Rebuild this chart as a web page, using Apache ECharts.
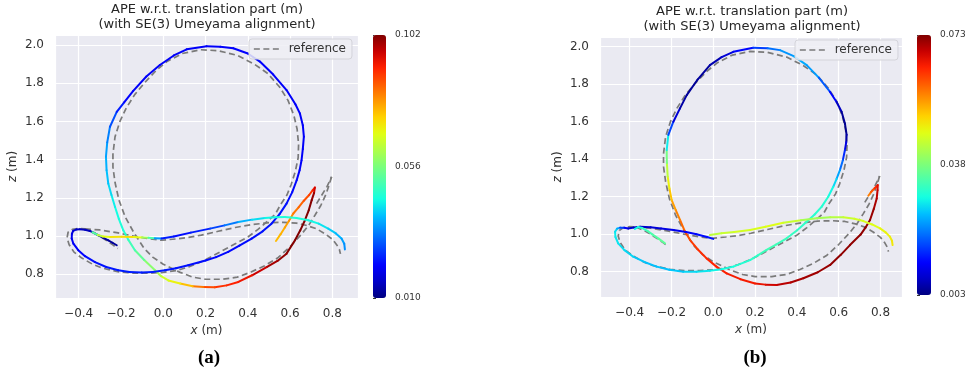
<!DOCTYPE html>
<html>
<head>
<meta charset="utf-8">
<script src="https://cdn.jsdelivr.net/npm/echarts@6/dist/echarts.min.js"></script>
<style>
  html, body { margin: 0; padding: 0; background: #fff; }
  #chart { width: 969px; height: 374px; }
</style>
</head>
<body>
<div id="chart"></div>
<script>
// matplotlib "jet" colormap, evenly spaced stops
const jet = ['#000080', '#0000c8', '#0000ff', '#0040ff', '#0080ff', '#00bfff', '#14ffe2', '#48ffaf',
  '#7bff7b', '#afff48', '#e2ff14', '#ffd200', '#ff9700', '#ff5c00', '#ff2100', '#c80000', '#800000'];

const errRangeA = [0.010, 0.102];
const errRangeB = [0.003, 0.073];
const cbarTicksA = 0.046;
const cbarTicksB = 0.035;

// ground truth (same in both panels), [x, z]
const refArc = [
  [0.796, 1.31], [0.785, 1.27], [0.77, 1.22], [0.745, 1.16], [0.718, 1.11], [0.69, 1.06], [0.654, 1.01],
  [0.6, 0.945], [0.544, 0.888], [0.48, 0.845], [0.415, 0.812], [0.35, 0.785], [0.28, 0.774], [0.2, 0.774],
  [0.14, 0.785], [0.08, 0.81], [0.0, 0.853], [-0.05, 0.89], [-0.09, 0.935], [-0.14, 1.02], [-0.18, 1.1],
  [-0.21, 1.19], [-0.228, 1.28], [-0.238, 1.36], [-0.238, 1.43], [-0.228, 1.52], [-0.205, 1.6], [-0.175, 1.67],
  [-0.135, 1.74], [-0.09, 1.8], [-0.035, 1.865], [0.02, 1.915], [0.09, 1.955], [0.176, 1.975], [0.26, 1.97],
  [0.351, 1.945], [0.43, 1.9], [0.495, 1.85], [0.55, 1.78], [0.59, 1.71], [0.618, 1.63], [0.633, 1.56],
  [0.64, 1.48], [0.638, 1.41], [0.625, 1.34], [0.605, 1.27], [0.585, 1.215], [0.555, 1.165], [0.53, 1.115],
  [0.49, 1.075], [0.448, 1.035], [0.4, 0.995], [0.345, 0.962], [0.29, 0.93], [0.235, 0.897], [0.185, 0.868],
  [0.12, 0.838], [0.064, 0.82], [0.0, 0.81], [-0.064, 0.806], [-0.14, 0.806], [-0.21, 0.813], [-0.29, 0.833],
  [-0.335, 0.853], [-0.385, 0.885], [-0.422, 0.916], [-0.445, 0.955], [-0.455, 0.99], [-0.45, 1.02],
  [-0.43, 1.035], [-0.4, 1.04], [-0.37, 1.038]
];
const refMiddle = [
  [-0.37, 1.038], [-0.3, 1.032], [-0.22, 1.018], [-0.14, 1.0], [-0.06, 0.985], [-0.01, 0.978], [0.06, 0.985],
  [0.12, 0.993], [0.18, 1.005], [0.26, 1.025], [0.34, 1.045], [0.42, 1.06], [0.5, 1.07], [0.57, 1.072],
  [0.63, 1.068], [0.68, 1.055], [0.725, 1.038], [0.765, 1.012], [0.8, 0.983], [0.82, 0.955], [0.833, 0.93],
  [0.838, 0.907]
];
const refHook = [
  [-0.37, 1.038], [-0.335, 1.022], [-0.3, 1.0], [-0.27, 0.978], [-0.24, 0.955], [-0.215, 0.935]
];
const refUp = [
  [0.725, 1.17], [0.75, 1.215], [0.775, 1.26], [0.796, 1.31]
];

// estimate (a), [x, z, APE]
const estAMain = [
  [0.533, 0.974, 0.075], [0.555, 1.01, 0.076], [0.575, 1.045, 0.077], [0.595, 1.08, 0.079], [0.615, 1.118, 0.081],
  [0.64, 1.15, 0.083], [0.665, 1.185, 0.085], [0.69, 1.215, 0.087], [0.707, 1.24, 0.089], [0.717, 1.254, 0.092],
  [0.713, 1.225, 0.099], [0.702, 1.188, 0.101], [0.688, 1.135, 0.102], [0.67, 1.083, 0.102], [0.648, 1.03, 0.102],
  [0.623, 0.978, 0.102], [0.583, 0.908, 0.101], [0.54, 0.87, 0.100], [0.489, 0.838, 0.098], [0.42, 0.795, 0.094],
  [0.355, 0.76, 0.091], [0.3, 0.742, 0.090], [0.244, 0.732, 0.088], [0.19, 0.734, 0.085], [0.139, 0.737, 0.079],
  [0.08, 0.752, 0.071], [0.024, 0.768, 0.067], [-0.01, 0.79, 0.064], [-0.039, 0.821, 0.060], [-0.09, 0.875, 0.055],
  [-0.134, 0.926, 0.051], [-0.165, 0.98, 0.048], [-0.189, 1.03, 0.046], [-0.21, 1.09, 0.045], [-0.228, 1.152, 0.044],
  [-0.245, 1.215, 0.042], [-0.26, 1.275, 0.040], [-0.268, 1.345, 0.038], [-0.271, 1.415, 0.037], [-0.265, 1.49, 0.035],
  [-0.252, 1.572, 0.031], [-0.22, 1.65, 0.026], [-0.185, 1.7, 0.022], [-0.142, 1.76, 0.021], [-0.08, 1.835, 0.021],
  [-0.016, 1.895, 0.021], [0.05, 1.945, 0.021], [0.111, 1.977, 0.021], [0.205, 1.993, 0.021], [0.27, 1.99, 0.021],
  [0.331, 1.983, 0.021], [0.4, 1.955, 0.022], [0.457, 1.913, 0.022], [0.52, 1.845, 0.021], [0.583, 1.764, 0.021],
  [0.625, 1.69, 0.021], [0.646, 1.642, 0.021], [0.66, 1.58, 0.021], [0.665, 1.52, 0.021], [0.66, 1.455, 0.021],
  [0.654, 1.397, 0.021], [0.645, 1.345, 0.021], [0.631, 1.292, 0.022], [0.61, 1.23, 0.022], [0.583, 1.17, 0.023],
  [0.55, 1.115, 0.023], [0.512, 1.065, 0.023], [0.47, 1.025, 0.023], [0.418, 0.987, 0.023], [0.36, 0.95, 0.022],
  [0.307, 0.917, 0.022], [0.25, 0.89, 0.022], [0.2, 0.872, 0.022], [0.118, 0.847, 0.023], [0.06, 0.832, 0.023],
  [0.008, 0.821, 0.024], [-0.05, 0.812, 0.024], [-0.102, 0.809, 0.024], [-0.16, 0.812, 0.024], [-0.213, 0.821, 0.024],
  [-0.27, 0.838, 0.023], [-0.323, 0.864, 0.023], [-0.37, 0.895, 0.022], [-0.402, 0.926, 0.021], [-0.425, 0.96, 0.021],
  [-0.433, 0.987, 0.020], [-0.432, 1.012, 0.019], [-0.426, 1.027, 0.018], [-0.41, 1.035, 0.016], [-0.394, 1.036, 0.015],
  [-0.37, 1.033, 0.015], [-0.347, 1.027, 0.015], [-0.327, 1.016, 0.014], [-0.307, 1.004, 0.013], [-0.283, 0.991, 0.013],
  [-0.26, 0.978, 0.012], [-0.24, 0.965, 0.012], [-0.22, 0.952, 0.012]
];
const estAMiddle = [
  [-0.335, 1.02, 0.044], [-0.31, 1.006, 0.060], [-0.285, 0.998, 0.066], [-0.25, 0.995, 0.069], [-0.197, 0.996, 0.073],
  [-0.14, 0.995, 0.071], [-0.1, 0.993, 0.065], [-0.07, 0.991, 0.056], [-0.04, 0.988, 0.045], [-0.008, 0.987, 0.026],
  [0.05, 0.998, 0.022], [0.13, 1.018, 0.023], [0.221, 1.039, 0.025], [0.29, 1.056, 0.030], [0.355, 1.074, 0.035],
  [0.42, 1.086, 0.040], [0.481, 1.095, 0.043], [0.53, 1.099, 0.045], [0.575, 1.1, 0.046], [0.63, 1.095, 0.046],
  [0.686, 1.083, 0.045], [0.735, 1.065, 0.043], [0.78, 1.039, 0.041], [0.815, 1.015, 0.039], [0.843, 0.987, 0.037],
  [0.856, 0.96, 0.035], [0.859, 0.93, 0.034]
];

// estimate (b), [x, z, APE]
const estBMain = [
  [0.742, 1.205, 0.056], [0.755, 1.225, 0.059], [0.772, 1.245, 0.062], [0.787, 1.262, 0.065], [0.786, 1.235, 0.068],
  [0.782, 1.191, 0.070], [0.768, 1.135, 0.071], [0.75, 1.076, 0.072], [0.728, 1.035, 0.072], [0.705, 0.998, 0.072],
  [0.654, 0.942, 0.072], [0.61, 0.89, 0.072], [0.559, 0.836, 0.072], [0.5, 0.797, 0.071], [0.431, 0.765, 0.071],
  [0.37, 0.742, 0.070], [0.303, 0.729, 0.069], [0.25, 0.731, 0.067], [0.2, 0.737, 0.065], [0.13, 0.76, 0.065],
  [0.064, 0.791, 0.065], [0.015, 0.827, 0.064], [-0.032, 0.871, 0.064], [-0.075, 0.92, 0.063], [-0.111, 0.969, 0.062],
  [-0.138, 1.02, 0.060], [-0.159, 1.076, 0.058], [-0.18, 1.13, 0.056], [-0.199, 1.182, 0.054], [-0.21, 1.245, 0.050],
  [-0.218, 1.307, 0.046], [-0.222, 1.38, 0.041], [-0.223, 1.449, 0.034], [-0.215, 1.53, 0.022], [-0.191, 1.6, 0.011],
  [-0.16, 1.67, 0.006], [-0.127, 1.742, 0.0045], [-0.075, 1.825, 0.0045], [-0.016, 1.902, 0.005], [0.04, 1.945, 0.007],
  [0.096, 1.973, 0.010], [0.191, 1.995, 0.014], [0.26, 1.992, 0.018], [0.319, 1.982, 0.021], [0.385, 1.95, 0.023],
  [0.447, 1.902, 0.024], [0.505, 1.835, 0.021], [0.558, 1.76, 0.015], [0.59, 1.705, 0.009], [0.614, 1.653, 0.005],
  [0.63, 1.59, 0.004], [0.638, 1.53, 0.004], [0.636, 1.49, 0.007], [0.63, 1.449, 0.012], [0.62, 1.395, 0.017],
  [0.606, 1.342, 0.021], [0.59, 1.295, 0.025], [0.574, 1.253, 0.028], [0.55, 1.2, 0.030], [0.519, 1.147, 0.031],
  [0.485, 1.105, 0.031], [0.447, 1.067, 0.031], [0.4, 1.02, 0.032], [0.351, 0.978, 0.032], [0.3, 0.945, 0.033],
  [0.255, 0.916, 0.033], [0.215, 0.888, 0.032], [0.176, 0.862, 0.031], [0.096, 0.827, 0.030], [0.04, 0.813, 0.029],
  [-0.016, 0.805, 0.028], [-0.08, 0.8, 0.027], [-0.144, 0.8, 0.026], [-0.21, 0.81, 0.025], [-0.271, 0.827, 0.025],
  [-0.33, 0.852, 0.025], [-0.383, 0.88, 0.026], [-0.425, 0.915, 0.027], [-0.455, 0.951, 0.027], [-0.468, 0.985, 0.028],
  [-0.47, 1.013, 0.028], [-0.46, 1.03, 0.026], [-0.446, 1.035, 0.020], [-0.425, 1.034, 0.013], [-0.407, 1.031, 0.009],
  [-0.38, 1.036, 0.007], [-0.35, 1.04, 0.007], [-0.3, 1.037, 0.008], [-0.25, 1.03, 0.009], [-0.19, 1.022, 0.010],
  [-0.13, 1.012, 0.011], [-0.08, 1.0, 0.012], [-0.03, 0.985, 0.013], [0.0, 0.975, 0.013]
];
const estBHook = [
  [-0.375, 1.028, 0.028], [-0.36, 1.038, 0.029], [-0.34, 1.033, 0.031], [-0.315, 1.018, 0.033], [-0.29, 0.998, 0.034],
  [-0.26, 0.975, 0.035], [-0.231, 0.951, 0.036]
];
const estBMiddle = [
  [-0.016, 0.996, 0.043], [0.04, 1.005, 0.044], [0.1, 1.012, 0.045], [0.176, 1.022, 0.046], [0.25, 1.04, 0.046],
  [0.335, 1.061, 0.047], [0.42, 1.075, 0.042], [0.495, 1.085, 0.041], [0.56, 1.09, 0.042], [0.622, 1.09, 0.044],
  [0.675, 1.082, 0.045], [0.718, 1.07, 0.046], [0.76, 1.052, 0.046], [0.798, 1.031, 0.047], [0.825, 1.01, 0.048],
  [0.845, 0.987, 0.048], [0.855, 0.965, 0.049], [0.858, 0.942, 0.049]
];

const titleText = 'APE w.r.t. translation part (m)\n(with SE(3) Umeyama alignment)';
const font = 'DejaVu Sans';
const txt = '#333';
const refColor = '#7a7a7a';
const refDash = [6, 3.5];

// consecutive points -> [x1, z1, x2, z2, err] segments for the custom series
function toSegments(pieces) {
  const segs = [];
  pieces.forEach((p) => {
    for (let i = 1; i < p.length; i++) {
      const a = p[i - 1];
      const b = p[i];
      segs.push([a[0], a[1], b[0], b[1], (a[2] + b[2]) / 2]);
    }
  });
  return segs;
}

function fmtTick(v) {
  const r = Math.round(v * 10) / 10;
  return (r < 0 ? '\u2212' : '') + Math.abs(r).toFixed(1);
}

function nameStyle() {
  return {
    fontFamily: font, fontSize: 12, color: txt,
    rich: { i: { fontFamily: font, fontSize: 12, color: txt, fontStyle: 'italic' } },
  };
}

function plotX(gridIndex, min, max) {
  return {
    type: 'value', gridIndex, min, max, splitNumber: 7,
    name: '{i|x} (m)', nameLocation: 'middle', nameGap: 27, nameTextStyle: nameStyle(),
    axisLine: { show: false }, axisTick: { show: false },
    axisLabel: { fontFamily: font, fontSize: 12, color: txt, margin: 10, showMinLabel: false, showMaxLabel: false, formatter: fmtTick },
    splitLine: { show: true, lineStyle: { color: '#fff', width: 1.2 } },
  };
}

function plotY(gridIndex, min, max) {
  return {
    type: 'value', gridIndex, min, max, splitNumber: 7,
    name: '{i|z} (m)', nameLocation: 'middle', nameGap: 36, nameTextStyle: nameStyle(),
    axisLine: { show: false }, axisTick: { show: false },
    axisLabel: { fontFamily: font, fontSize: 12, color: txt, margin: 11, showMinLabel: false, showMaxLabel: false, formatter: fmtTick },
    splitLine: { show: true, lineStyle: { color: '#fff', width: 1.2 } },
  };
}

function cbarX(gridIndex) {
  return { type: 'value', gridIndex, min: 0, max: 1, show: false };
}

function cbarY(gridIndex, range, interval) {
  return {
    type: 'value', gridIndex, position: 'right', min: range[0], max: range[1], interval,
    axisLine: { show: false },
    axisTick: { show: true, length: 3, lineStyle: { color: txt, width: 1 } },
    axisLabel: { fontFamily: font, fontSize: 9, color: txt, margin: 9, formatter: (v) => v.toFixed(3) },
    splitLine: { show: false },
  };
}

function refSeries(axisIndex) {
  return [refArc, refMiddle, refHook, refUp].map((pts) => ({
    name: 'reference',
    type: 'line',
    xAxisIndex: axisIndex,
    yAxisIndex: axisIndex,
    data: pts,
    symbol: 'none',
    showSymbol: false,
    silent: true,
    lineStyle: { color: refColor, width: 1.7, type: refDash },
    itemStyle: { color: refColor },
    z: 2,
  }));
}

function renderSegment(params, api) {
  const p1 = api.coord([api.value(0), api.value(1)]);
  const p2 = api.coord([api.value(2), api.value(3)]);
  return {
    type: 'line',
    shape: { x1: p1[0], y1: p1[1], x2: p2[0], y2: p2[1] },
    style: { stroke: api.visual('color'), lineWidth: 2, lineCap: 'round' },
  };
}

function estSeries(axisIndex, pieces) {
  return {
    type: 'custom',
    xAxisIndex: axisIndex,
    yAxisIndex: axisIndex,
    dimensions: ['x1', 'z1', 'x2', 'z2', 'err'],
    encode: { x: [0, 2], y: [1, 3] },
    data: toSegments(pieces),
    renderItem: renderSegment,
    silent: true,
    z: 3,
  };
}

function legendAt(left, top) {
  return {
    data: ['reference'],
    left, top,
    itemWidth: 26, itemHeight: 14,
    padding: [4, 6, 4, 4],
    backgroundColor: 'rgba(238,238,244,0.85)',
    borderColor: '#d4d4da', borderWidth: 1, borderRadius: 3,
    selectedMode: false,
    formatter: (n) => ' ' + n,
    textStyle: { fontFamily: font, fontSize: 12, color: txt },
    itemStyle: { opacity: 0 },
    lineStyle: { color: refColor, width: 1.7, type: refDash },
  };
}

function colorbar(seriesIndex, range, left, top, w, h) {
  return {
    type: 'continuous',
    seriesIndex,
    dimension: 4,
    min: range[0], max: range[1],
    inRange: { color: jet },
    orient: 'vertical',
    left, top,
    itemWidth: w, itemHeight: h,
    padding: 0,
    calculable: false,
    hoverLink: false,
  };
}

const chart = echarts.init(document.getElementById('chart'));

chart.setOption({
  animation: false,
  backgroundColor: '#fff',
  title: [
    { text: titleText, left: 207, top: 2, textAlign: 'center', padding: 0,
      textStyle: { fontFamily: font, fontSize: 13, fontWeight: 'normal', lineHeight: 15, color: '#262626' } },
    { text: titleText, left: 752, top: 4, textAlign: 'center', padding: 0,
      textStyle: { fontFamily: font, fontSize: 13, fontWeight: 'normal', lineHeight: 15, color: '#262626' } },
    { text: '(a)', left: 209, top: 349, textAlign: 'center', padding: 0,
      textStyle: { fontFamily: 'Liberation Serif', fontSize: 19, fontWeight: 'bold', color: '#000' } },
    { text: '(b)', left: 755, top: 349, textAlign: 'center', padding: 0,
      textStyle: { fontFamily: 'Liberation Serif', fontSize: 19, fontWeight: 'bold', color: '#000' } },
  ],
  legend: [legendAt(249, 39), legendAt(795, 40)],
  grid: [
    { left: 55, top: 35, width: 303, height: 263, show: true, backgroundColor: '#EAEAF2', borderWidth: 0 },
    { left: 600, top: 37, width: 302, height: 260, show: true, backgroundColor: '#EAEAF2', borderWidth: 0 },
    { left: 373, top: 35, width: 13, height: 263 },
    { left: 917, top: 35, width: 14, height: 260 },
  ],
  xAxis: [plotX(0, -0.512, 0.921), plotX(1, -0.542, 0.903), cbarX(2), cbarX(3)],
  yAxis: [plotY(0, 0.676, 2.052), plotY(1, 0.665, 2.052), cbarY(2, errRangeA, cbarTicksA), cbarY(3, errRangeB, cbarTicksB)],
  visualMap: [
    colorbar(4, errRangeA, 373, 35, 13, 263),
    colorbar(9, errRangeB, 917, 35, 14, 260),
  ],
  series: [
    ...refSeries(0),
    estSeries(0, [estAMain, estAMiddle]),
    ...refSeries(1),
    estSeries(1, [estBMain, estBHook, estBMiddle]),
  ],
});
</script>
</body>
</html>
